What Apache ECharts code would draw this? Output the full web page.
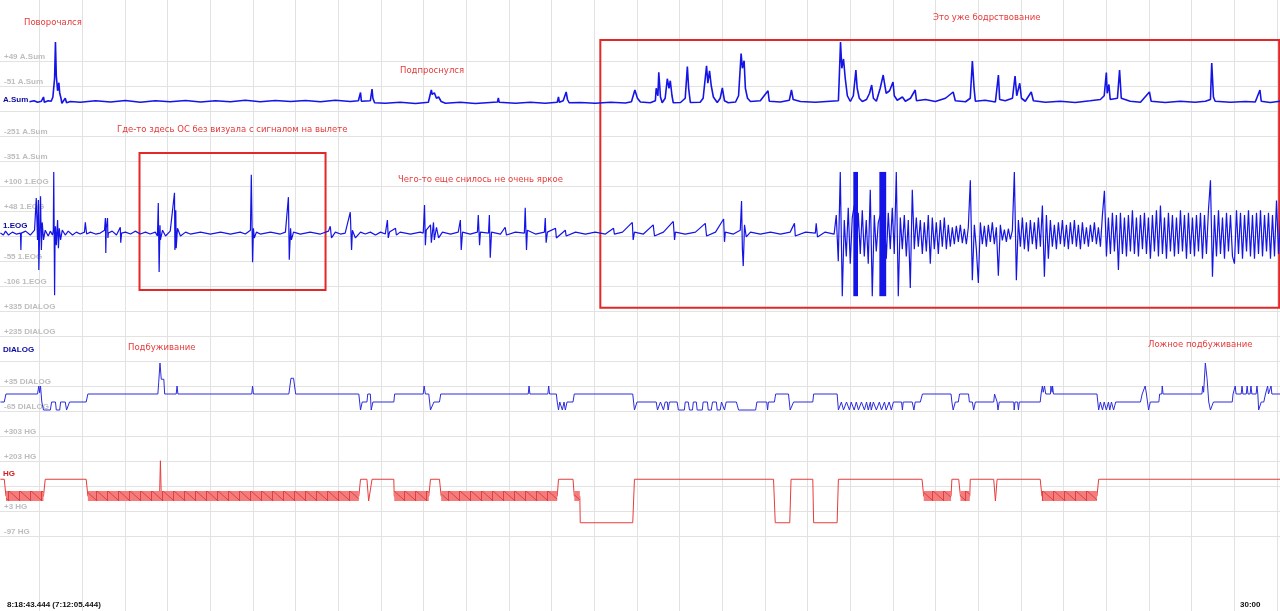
<!DOCTYPE html>
<html><head><meta charset="utf-8">
<script src="https://cdn.jsdelivr.net/npm/echarts@6/dist/echarts.min.js"></script>
<style>html,body{margin:0;padding:0;background:#fff;overflow:hidden}#c{position:absolute;left:-3px;top:0;width:1283px;height:611px}</style>
</head><body><div id="c"></div>
<script>
// ---------- DATA (time in seconds, values in channel units) ----------
const timeMax = 30.07;
const asumTicks = [49, -51, -251, -351];
const eogTicks = [100, 48, -55, -106];
const dialogTicks = [335, 235, 35, -65];
const hgTicks = [303, 203, 3, -97];

const asum = [[0.76,-114],[0.87,-110],[0.95,-116],[1.04,-112],[1.09,-95],[1.11,-116],[1.20,-110],[1.27,-112],[1.31,-95],[1.35,-20],[1.37,125],[1.39,-10],[1.42,-70],[1.45,-38],[1.47,-80],[1.50,-100],[1.52,-120],[1.56,-112],[1.60,-100],[1.63,-118],[1.72,-113],[1.95,-116],[2.31,-110],[2.66,-115],[3.01,-109],[3.36,-116],[3.71,-110],[4.06,-114],[4.42,-109],[4.77,-115],[5.12,-110],[5.47,-114],[5.82,-108],[6.17,-114],[6.52,-109],[6.88,-113],[7.23,-109],[7.58,-114],[7.93,-108],[8.28,-113],[8.47,-110],[8.49,-110],[8.52,-77],[8.54,-112],[8.75,-110],[8.79,-63],[8.81,-100],[8.85,-118],[9.10,-120],[9.45,-116],[9.81,-121],[10.11,-116],[10.16,-80],[10.18,-67],[10.20,-85],[10.25,-78],[10.30,-100],[10.35,-95],[10.41,-113],[10.51,-120],[10.86,-116],[11.21,-121],[11.56,-117],[11.73,-115],[11.75,-99],[11.77,-116],[12.15,-120],[12.50,-116],[12.85,-120],[13.13,-116],[13.16,-95],[13.18,-116],[13.27,-110],[13.34,-75],[13.37,-105],[13.41,-118],[13.67,-117],[14.02,-120],[14.38,-116],[14.73,-119],[14.87,-114],[14.95,-67],[15.01,-100],[15.08,-115],[15.31,-118],[15.43,-110],[15.45,-60],[15.49,-90],[15.51,4],[15.55,-95],[15.59,-118],[15.66,-100],[15.71,-22],[15.75,-60],[15.78,-30],[15.82,-90],[15.85,-118],[16.02,-117],[16.13,-100],[16.18,27],[16.21,-60],[16.25,-117],[16.48,-116],[16.55,-100],[16.63,30],[16.66,-40],[16.70,10],[16.74,-50],[16.79,-95],[16.88,-117],[16.95,-100],[17.00,-59],[17.05,-110],[17.14,-118],[17.31,-115],[17.38,-90],[17.44,79],[17.47,20],[17.51,50],[17.54,-60],[17.59,-100],[17.66,-113],[17.89,-110],[18.07,-70],[18.10,-112],[18.36,-115],[18.57,-108],[18.62,-67],[18.66,-105],[18.83,-113],[19.18,-116],[19.53,-112],[19.72,-110],[19.74,-20],[19.77,125],[19.80,20],[19.84,57],[19.88,-20],[19.93,-90],[20.00,-113],[20.07,-90],[20.13,13],[20.16,-60],[20.21,-100],[20.28,-113],[20.38,-105],[20.45,-80],[20.50,-47],[20.54,-100],[20.61,-112],[20.70,-60],[20.77,-7],[20.80,-40],[20.84,-80],[20.92,-70],[21.00,-35],[21.03,-90],[21.10,-108],[21.22,-95],[21.29,-112],[21.41,-100],[21.52,-67],[21.55,-110],[21.76,-105],[21.99,-113],[22.23,-100],[22.41,-75],[22.46,-110],[22.70,-114],[22.81,-100],[22.86,49],[22.90,-60],[22.93,-112],[23.16,-108],[23.40,-115],[23.47,-7],[23.50,-105],[23.63,-110],[23.80,-100],[23.86,-11],[23.90,-90],[23.97,-40],[24.01,-100],[24.10,-112],[24.24,-75],[24.29,-110],[24.57,-116],[24.92,-112],[25.27,-117],[25.62,-110],[25.86,-105],[25.95,-90],[26.00,3],[26.02,-80],[26.06,-45],[26.09,-105],[26.26,-100],[26.31,13],[26.35,-100],[26.56,-112],[26.80,-116],[27.01,-75],[27.05,-112],[27.38,-117],[27.73,-112],[28.08,-116],[28.32,-112],[28.44,-105],[28.47,41],[28.51,-95],[28.55,-112],[28.91,-116],[29.26,-113],[29.49,-115],[29.60,-67],[29.63,-112],[29.84,-117],[30.07,-112]];

const eogQuiet = [[0.08,3],[0.15,-1],[0.20,7],[0.27,-1],[0.36,5],[0.45,1],[0.55,3],[0.56,-32],[0.57,3],[0.67,7],[0.78,-1],[0.88,9],[0.92,75],[0.95,-11],[0.97,71],[0.98,-73],[1.01,40],[1.02,79],[1.04,-32],[1.06,25],[1.09,-11],[1.13,9],[1.20,-3],[1.25,7],[1.30,-1],[1.32,9],[1.33,129],[1.35,-125],[1.36,-11],[1.37,17],[1.39,-22],[1.42,30],[1.44,-28],[1.46,13],[1.49,-11],[1.53,9],[1.60,-1],[1.67,7],[1.77,-1],[1.86,5],[1.95,1],[2.05,5],[2.07,25],[2.10,1],[2.19,5],[2.31,1],[2.42,3],[2.52,9],[2.54,34],[2.55,-38],[2.56,13],[2.59,34],[2.60,-7],[2.61,3],[2.70,7],[2.80,-1],[2.89,15],[2.90,-17],[2.92,3],[3.01,5],[3.13,1],[3.24,7],[3.36,1],[3.48,5],[3.59,1],[3.71,5],[3.76,-3],[3.78,65],[3.80,-77],[3.82,19],[3.83,-11],[3.88,9],[3.95,-3],[4.06,7],[4.16,86],[4.17,-32],[4.19,50],[4.20,-28],[4.23,13],[4.30,-3],[4.42,5],[4.53,1],[4.77,5],[5.00,1],[5.24,5],[5.47,1],[5.70,5],[5.82,1],[5.94,9],[5.96,123],[5.99,-57],[6.01,13],[6.03,-7],[6.08,5],[6.17,1],[6.41,5],[6.64,1],[6.76,5],[6.83,77],[6.85,-52],[6.88,13],[6.90,-11],[6.95,5],[7.11,1],[7.34,5],[7.58,1],[7.77,7],[7.81,17],[7.84,-7],[7.93,5],[8.05,1],[8.16,3],[8.28,46],[8.31,-32],[8.33,9],[8.40,-7],[8.52,5],[8.63,1],[8.75,5],[8.87,-1],[8.99,5],[9.10,1],[9.15,30],[9.17,-7],[9.20,5],[9.34,13],[9.36,-1],[9.45,5],[9.69,1],[9.92,5],[9.99,3],[10.02,61],[10.04,-22],[10.06,9],[10.16,20],[10.18,-17],[10.23,25],[10.25,-11],[10.30,15],[10.35,-7],[10.44,5],[10.63,1],[10.81,5],[10.86,30],[10.88,-32],[10.91,5],[11.09,1],[11.26,5],[11.28,40],[11.31,-22],[11.33,5],[11.52,3],[11.54,40],[11.56,-48],[11.59,5],[11.80,1],[11.91,15],[11.94,-1],[12.15,5],[12.36,3],[12.38,55],[12.41,-32],[12.43,9],[12.62,1],[12.83,5],[12.85,34],[12.87,-17],[12.90,5],[13.09,13],[13.11,-7],[13.32,9],[13.34,-3],[13.56,5],[13.79,1],[14.02,5],[14.26,1],[14.45,13],[14.47,1],[14.66,5],[14.89,25],[14.91,-11],[14.94,5],[15.15,1],[15.38,20],[15.41,-3],[15.62,5],[15.85,27],[15.88,-11],[15.90,5],[16.13,1],[16.37,5],[16.60,23],[16.63,-3],[16.84,5],[17.03,32],[17.05,-15],[17.07,5],[17.26,1],[17.42,9],[17.45,69],[17.47,-30],[17.49,-65],[17.52,20],[17.56,-5],[17.66,5],[17.89,1],[18.13,5],[18.36,1],[18.59,5],[18.69,23],[18.71,-3],[18.95,5],[19.18,3],[19.20,23],[19.23,-5],[19.41,5],[19.62,1]];

// dense part of 1.EOG, sampled every eogDenseStep seconds from eogDenseStart
const eogDenseStart = 19.67;
const eogDenseStep = 0.0469;
const eogDense = [40,-55,129,-127,30,-45,55,-60,35,60,-50,45,-40,50,-45,30,-60,92,-127,40,-35,25,40,-40,40,-50,45,-30,55,-40,129,-127,35,-30,40,-45,30,-110,92,-30,35,-25,30,-40,25,-35,40,-60,35,-30,25,-40,30,-25,35,-30,20,-25,15,-20,18,-15,20,-18,12,-20,15,112,-94,20,-30,-100,25,-20,18,-25,20,-15,25,-20,15,-85,20,-12,10,-15,12,-10,8,129,-94,30,-25,35,-30,25,-35,30,-20,25,-30,35,-25,60,-87,40,-50,30,-25,20,-30,25,-20,30,-25,20,-30,25,-20,30,-25,20,-30,25,-20,15,-25,20,-15,25,-20,15,-25,40,90,-45,35,-40,45,-35,40,-73,45,-40,35,-45,40,-35,50,-40,35,-45,40,-30,45,-40,35,-50,40,-35,50,-45,60,-40,35,-50,45,-35,40,-45,35,-40,50,-35,40,-50,45,-40,35,-45,40,-35,45,-50,40,-40,50,112,-87,40,-45,50,-40,35,-50,45,-35,40,-45,-60,50,-40,45,-50,40,-35,50,-45,40,-50,45,-40,50,-45,40,-35,45,-50,40,-45,70,-40,30];
// saturated bursts of 1.EOG: [start, end, top, bottom]
const eogBursts = [[20.07,20.18,129,-127],[20.68,20.84,129,-127]];

const dialog = [[0.08,-29],[0.17,-29],[0.21,3],[0.95,3],[0.98,35],[1.00,8],[1.02,35],[1.05,-29],[1.09,-61],[1.25,-61],[1.28,-29],[1.37,-29],[1.39,-61],[1.47,-61],[1.49,-29],[1.60,-29],[1.63,-61],[1.64,-61],[1.70,-29],[2.09,-29],[2.13,3],[3.77,3],[3.79,50],[3.82,127],[3.85,62],[3.91,62],[3.93,3],[4.20,3],[4.22,35],[4.24,3],[5.97,3],[5.99,35],[6.01,3],[6.84,3],[6.89,66],[6.95,66],[7.00,3],[8.48,3],[8.52,-61],[8.56,-29],[8.67,-29],[8.69,3],[8.75,3],[8.77,-61],[8.81,-29],[9.30,-29],[9.32,3],[9.99,3],[10.01,35],[10.04,3],[10.12,3],[10.16,-61],[10.20,-61],[10.24,-29],[10.37,-29],[10.40,3],[12.45,3],[12.47,35],[12.49,3],[12.91,3],[12.93,35],[12.95,3],[13.11,3],[13.13,-29],[13.16,-61],[13.19,-29],[13.25,-61],[13.29,-29],[13.32,-61],[13.36,-29],[13.50,-29],[13.53,3],[14.90,3],[14.94,-61],[15.00,-29],[15.45,-29],[15.48,-61],[15.52,-61],[15.55,-29],[15.59,-29],[15.62,-61],[15.66,-29],[15.71,-29],[15.73,-61],[15.76,-29],[15.94,-29],[15.97,-61],[16.11,-61],[16.13,-29],[16.20,-29],[16.23,-61],[16.30,-61],[16.32,-29],[16.39,-29],[16.41,-61],[16.53,-61],[16.55,-29],[16.65,-29],[16.67,-61],[16.74,-61],[16.77,-29],[16.86,-29],[16.88,-61],[16.95,-61],[16.98,-29],[17.02,-29],[17.05,-61],[17.09,-29],[17.33,-29],[17.38,-61],[17.78,-61],[17.81,-29],[18.04,-29],[18.06,-61],[18.08,-29],[18.22,-29],[18.25,3],[18.55,3],[18.59,-61],[18.62,-61],[18.67,-29],[19.12,-29],[19.14,3],[19.69,3],[19.72,-61],[19.79,-29],[19.84,-61],[19.91,-29],[19.98,-61],[20.02,-29],[20.09,-61],[20.14,-29],[20.19,-61],[20.26,-29],[20.33,-61],[20.38,-29],[20.42,-61],[20.47,-29],[20.49,-61],[20.54,-29],[20.61,-61],[20.68,-29],[20.73,-61],[20.80,-29],[20.84,-61],[20.91,-29],[20.96,-61],[21.01,-29],[21.20,-29],[21.22,-61],[21.24,-29],[21.45,-29],[21.49,-61],[21.52,-29],[21.64,-29],[21.69,3],[22.36,3],[22.38,-29],[22.41,-61],[22.46,-29],[22.53,-29],[22.56,3],[22.77,3],[22.79,-29],[22.86,-29],[22.89,-61],[22.93,-29],[23.36,-29],[23.38,3],[23.42,3],[23.44,-29],[23.46,-61],[23.49,-29],[23.83,-29],[23.84,-61],[23.86,-29],[23.92,-29],[23.94,-61],[23.96,-29],[24.45,-29],[24.47,3],[24.50,35],[24.52,10],[24.55,35],[24.58,3],[24.69,3],[24.70,35],[24.73,10],[24.74,35],[24.76,3],[25.78,3],[25.80,-29],[25.82,-61],[25.86,-29],[25.91,-61],[25.95,-29],[26.00,-61],[26.05,-29],[26.08,-61],[26.12,-29],[26.17,-61],[26.22,-29],[26.80,-29],[26.84,3],[26.91,35],[26.94,3],[26.96,3],[26.99,-61],[27.03,-29],[27.23,-29],[27.25,3],[27.30,3],[27.31,35],[27.33,3],[28.24,3],[28.26,35],[28.28,10],[28.32,127],[28.34,127],[28.36,66],[28.40,-29],[28.44,-61],[28.48,-61],[28.51,-29],[28.95,-29],[28.97,3],[29.01,3],[29.02,35],[29.04,3],[29.16,3],[29.18,35],[29.20,3],[29.28,3],[29.30,35],[29.32,3],[29.37,3],[29.39,35],[29.41,3],[29.51,3],[29.53,35],[29.55,3],[29.57,-61],[29.63,-29],[29.69,-29],[29.73,3],[29.76,3],[29.78,35],[29.80,3],[29.84,3],[29.86,35],[29.88,3],[30.07,3]];

const hg = [[0.08,130],[0.17,130],[0.21,62],[1.09,62],[1.13,130],[2.09,130],[2.13,62],[3.81,62],[3.83,204],[3.85,62],[8.48,62],[8.52,130],[8.67,130],[8.71,43],[8.75,43],[8.79,130],[9.30,130],[9.31,62],[10.12,62],[10.16,130],[10.37,130],[10.41,62],[13.13,62],[13.16,130],[13.50,130],[13.53,62],[13.66,62],[13.67,-44],[14.90,-44],[14.94,130],[18.20,130],[18.24,-44],[18.58,-44],[18.61,130],[19.12,130],[19.14,-44],[19.69,-44],[19.72,130],[21.68,130],[21.72,62],[22.36,62],[22.38,130],[22.54,130],[22.58,62],[22.80,62],[22.81,130],[23.36,130],[23.40,43],[23.44,130],[24.45,130],[24.49,62],[25.78,62],[25.82,130],[30.07,130]];
// oscillating HG segments: [start, end]
const hgBands = [[0.21,1.09],[2.13,8.48],[9.31,10.12],[10.41,13.13],[13.53,13.66],[21.72,22.36],[22.58,22.80],[24.49,25.78]];
const hgBandTop = 83, hgBandBottom = 43;

// annotation boxes (time, 1.EOG units)
const boxes = [[3.34,168,7.70,-114],[14.14,401,30.05,-151]];

// ---------- CHART ----------
const eog = eogQuiet.concat(eogDense.map((v,i)=>[+(eogDenseStart+i*eogDenseStep).toFixed(3), v]));

const pc = document.createElement('canvas'); pc.width = 11; pc.height = 10;
const cx = pc.getContext('2d');
cx.fillStyle = '#f47c7c'; cx.fillRect(0,0,11,10);
cx.strokeStyle = '#de4040'; cx.lineWidth = 1;
cx.beginPath(); cx.moveTo(0.5,0); cx.lineTo(0.5,10); cx.moveTo(0,0); cx.lineTo(11,10); cx.stroke();

const OFF = 3; // container is shifted 3px to the left
const grids = [
  {left:0, right:0, top:0, bottom:0},
  {left:0, right:0, top:61, height:475},
  {left:0, right:0, top:11, height:150},
  {left:0, right:0, top:36, height:300},
  {left:0, right:0, top:311, height:100},
  {left:0, right:0, top:436, height:100}
];
const xAxes = grids.map((g,i)=>({type:'value', gridIndex:i, min:0, max:timeMax, interval:1,
  axisLine:{show:false}, axisTick:{show:false}, axisLabel:{show:false},
  splitLine:{show:i===0, lineStyle:{color:'#e2e2e2', width:1}}}));
const lab = {color:'#bdbdbd', fontSize:8, fontFamily:'Liberation Sans', fontWeight:'bold'};
function chAxis(gi, min, max, ticks, name){
  return {type:'value', gridIndex:gi, min:min, max:max,
    axisLine:{show:false}, axisTick:{show:false}, splitLine:{show:false},
    axisLabel:Object.assign({show:true, inside:true, customValues:ticks, margin:7, verticalAlign:'bottom',
      formatter:v=>(v>0?'+':'')+v+' '+name}, lab)};
}
const yAxes = [
  {gridIndex:0, min:0, max:1, show:false},
  {gridIndex:1, type:'value', min:0, max:19, interval:1, inverse:true, axisLine:{show:false}, axisTick:{show:false}, axisLabel:{show:false},
    splitLine:{show:true, lineStyle:{color:'#e2e2e2', width:1}}},
  chAxis(2, -351, 249, asumTicks, 'A.Sum'),
  chAxis(3, -209, 409, eogTicks, '1.EOG'),
  chAxis(4, -65, 335, dialogTicks, 'DIALOG'),
  chAxis(5, -97, 303, hgTicks, 'HG')
];
function rectItem(fill){
  return function(params, api){
    const p0 = api.coord([api.value(0), api.value(2)]);
    const p1 = api.coord([api.value(1), api.value(3)]);
    return {type:'rect', shape:{x:p0[0], y:p0[1], width:p1[0]-p0[0], height:p1[1]-p0[1]}, style:{fill:fill}};
  };
}
const ann = (text, x, y) => ({type:'text', left:x+OFF, top:y-6, z:100, style:{text:text, fill:'#e53a3a', font:'8.5px "DejaVu Sans"'}});
const chName = (text, x, y, color) => ({type:'text', left:x+OFF, top:y-5, z:100, style:{text:text, fill:color, font:'bold 8px "Liberation Sans"'}});

const option = {
  animation:false, backgroundColor:'#fff',
  grid:grids, xAxis:xAxes, yAxis:yAxes,
  series:[
    {type:'line', xAxisIndex:2, yAxisIndex:2, data:asum, symbol:'none', lineStyle:{color:'#1414e6', width:1.6}, z:5},
    {type:'line', xAxisIndex:3, yAxisIndex:3, data:eog, symbol:'none', lineStyle:{color:'#1414e6', width:1.2}, z:5,
      markArea:{silent:true, label:{show:false}, itemStyle:{color:'rgba(0,0,0,0)', borderColor:'#e42828', borderWidth:2},
        data:boxes.map(b=>[{coord:[b[0],b[1]]},{coord:[b[2],b[3]]}])}},
    {type:'custom', xAxisIndex:3, yAxisIndex:3, data:eogBursts, renderItem:rectItem('#1414e6'), z:6, encode:{x:[0,1], y:[2,3]}},
    {type:'line', xAxisIndex:4, yAxisIndex:4, data:dialog, symbol:'none', lineStyle:{color:'#2c2cdc', width:1}, z:5},
    {type:'line', xAxisIndex:5, yAxisIndex:5, data:hg, symbol:'none', lineStyle:{color:'#e63c3c', width:1}, z:5},
    {type:'custom', xAxisIndex:5, yAxisIndex:5, data:hgBands.map(b=>[b[0],b[1],hgBandTop,hgBandBottom]),
      renderItem:rectItem({image:pc, repeat:'repeat'}), z:6, encode:{x:[0,1], y:[2,3]}}
  ],
  graphic:[
    ann('Поворочался', 24, 24),
    ann('Подпроснулся', 400, 72),
    ann('Это уже бодрствование', 933, 19),
    ann('Где-то здесь ОС без визуала с сигналом на вылете', 117, 131),
    ann('Чего-то еще снилось не очень яркое', 398, 181),
    ann('Подбуживание', 128, 349),
    ann('Ложное подбуживание', 1148, 346),
    chName('A.Sum', 3, 101, '#0a0aa0'),
    chName('1.EOG', 3, 227, '#0a0aa0'),
    chName('DIALOG', 3, 351, '#0a0aa0'),
    chName('HG', 3, 475, '#d42020'),
    {type:'text', left:7+OFF, top:601, z:100, style:{text:'8:18:43.444 (7:12:05.444)', fill:'#111', font:'bold 8px "Liberation Sans"'}},
    {type:'text', left:1240+OFF, top:601, z:100, style:{text:'30:00', fill:'#111', font:'bold 8px "Liberation Sans"'}}
  ]
};
echarts.init(document.getElementById('c')).setOption(option);
</script>
</body></html>
